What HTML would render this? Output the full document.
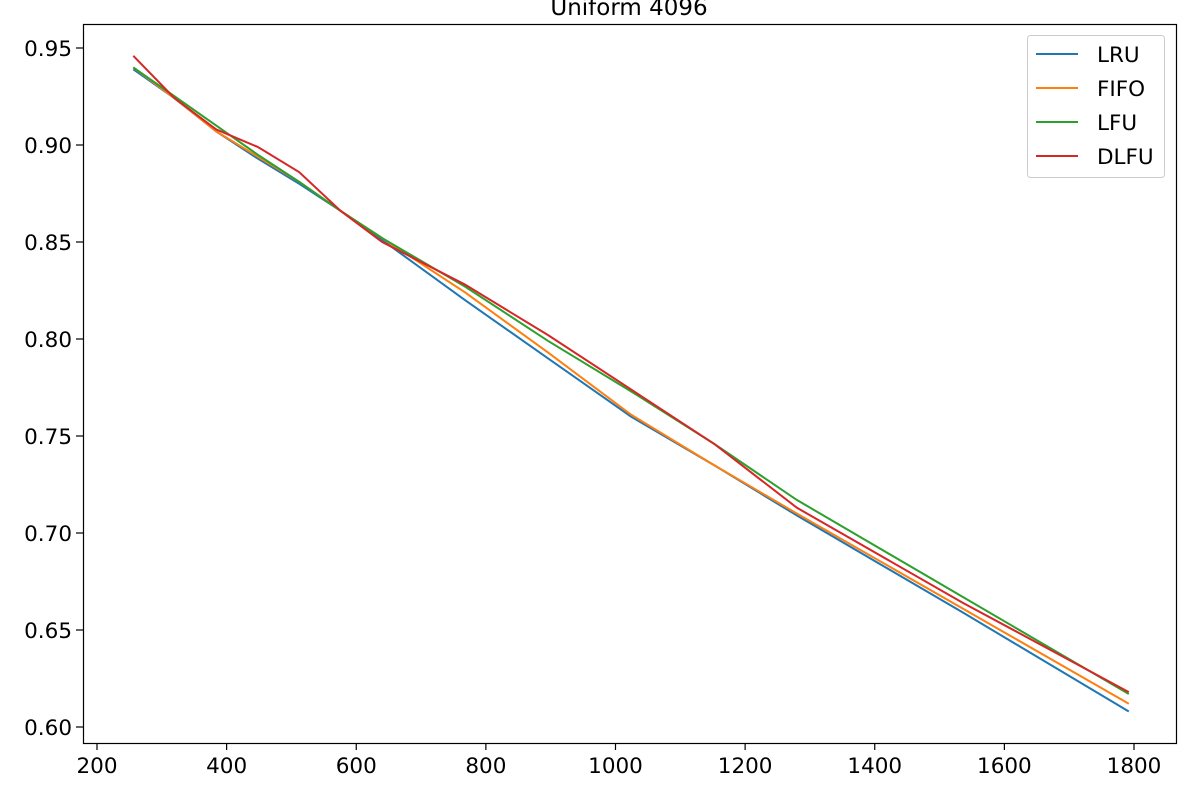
<!DOCTYPE html>
<html><head><meta charset="utf-8"><style>
body{margin:0;background:#fff;font-family:"Liberation Sans","DejaVu Sans",sans-serif;}
svg text{font-family:"DejaVu Sans","Liberation Sans",sans-serif;}
</style></head><body>
<svg id="chart" width="1200" height="800" xmlns="http://www.w3.org/2000/svg">
<rect width="1200" height="800" fill="#fff"/>
<text x="629" y="15" font-size="23" text-anchor="middle">Uniform 4096</text>
<g id="plot"></g>
<rect x="83.5" y="24.5" width="1093" height="719" fill="none" stroke="#000" stroke-width="1.2"/>
<g id="legend"></g>
</svg>
<script>
const xValues=[256,320,384,448,512,576,640,768,896,1024,1152,1280,1536,1792];
const lruValues=[0.939,0.924,0.907,0.893,0.880,0.866,0.851,0.820,0.790,0.760,0.735,0.709,0.659,0.608];
const fifoValues=[0.940,0.924,0.907,0.894,0.881,0.866,0.852,0.824,0.793,0.761,0.735,0.710,0.661,0.612];
const lfuValues=[0.940,0.925,0.910,0.895,0.881,0.866,0.852,0.827,0.799,0.773,0.746,0.717,0.667,0.617];
const dlfuValues=[0.946,0.924,0.908,0.899,0.886,0.866,0.850,0.828,0.802,0.774,0.746,0.713,0.664,0.618];
const seriesNames=["LRU","FIFO","LFU","DLFU"];
const xTicks=[200,400,600,800,1000,1200,1400,1600,1800];
const yTicks=[0.60,0.65,0.70,0.75,0.80,0.85,0.90,0.95];
const colors=["#1f77b4","#ff7f0e","#2ca02c","#d62728"];
const NS="http://www.w3.org/2000/svg";
function sx(v){return 97+(v-200)*(1134-97)/1600;}
function sy(v){return 727-(v-0.60)*(727-48)/0.35;}
function mk(t,a,p){const e=document.createElementNS(NS,t);for(const k in a)e.setAttribute(k,a[k]);p.appendChild(e);return e;}
const svg=document.getElementById('chart'),plot=document.getElementById('plot'),leg=document.getElementById('legend');
xTicks.forEach(t=>{const x=sx(t);
 const l=mk('line',{x1:x,x2:x,y1:743,y2:750,stroke:'#000','stroke-width':1.2},svg);
 
 const tx=mk('text',{x:x,y:773,'font-size':21.5,'text-anchor':'middle'},svg);tx.textContent=t;
 });
yTicks.forEach(t=>{const y=sy(t);
 const l=mk('line',{x1:76,x2:83,y1:y,y2:y,stroke:'#000','stroke-width':1.2},svg);
 
 const tx=mk('text',{x:72,y:y+8,'font-size':21.5,'text-anchor':'end'},svg);tx.textContent=t.toFixed(2);
 });
[lruValues,fifoValues,lfuValues,dlfuValues].forEach((vals,i)=>{
 const p=mk('polyline',{points:vals.map((v,j)=>sx(xValues[j])+','+sy(v)).join(' '),fill:'none',stroke:colors[i],'stroke-width':2},plot);
 
 });
const lb=mk('rect',{x:1027.5,y:35.5,width:137,height:142,rx:3,fill:'#fff','fill-opacity':0.8,stroke:'#ccc'},leg);

seriesNames.forEach((n,i)=>{const y=54+i*34;
 const l=mk('line',{x1:1036,x2:1078,y1:y,y2:y,stroke:colors[i],'stroke-width':2},leg);
 
 const t=mk('text',{x:1097,y:y+8,'font-size':21.5},leg);t.textContent=n;
 });
</script>
</body></html>
